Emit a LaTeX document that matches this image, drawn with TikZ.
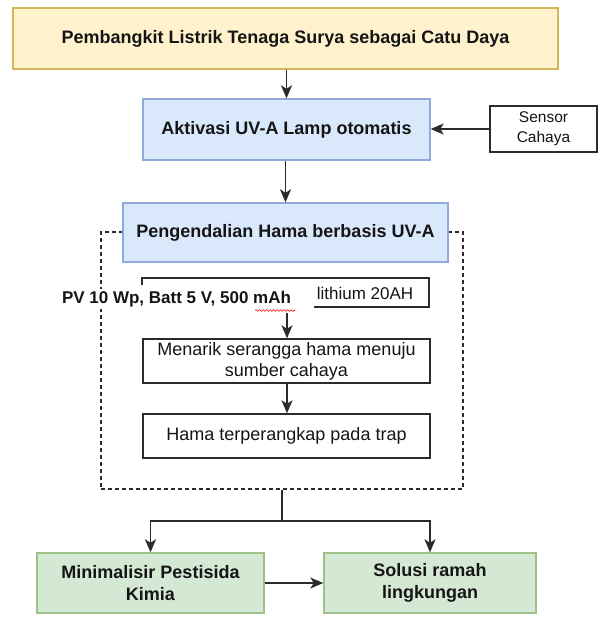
\documentclass[tikz,border=0pt]{standalone}
\usepackage{fontspec}
\setmainfont{Liberation Sans}
\usetikzlibrary{arrows.meta,decorations.pathmorphing}
\definecolor{yfill}{HTML}{FFF2CC}
\definecolor{ydraw}{HTML}{D6B656}
\definecolor{bfill}{HTML}{DAE8FC}
\definecolor{bdraw}{HTML}{8FAADC}
\definecolor{gfill}{HTML}{D5E8D4}
\definecolor{gdraw}{HTML}{9CC18A}
\definecolor{lin}{HTML}{2B2B2B}
\definecolor{txt}{HTML}{151515}
\begin{document}
\begin{tikzpicture}[x=1pt,y=-1pt,
  base/.style={draw, line width=1.4pt, inner sep=0pt, align=center, text=txt},
  boldbox/.style={base, font=\fontsize{18}{22}\selectfont\bfseries},
  plainbox/.style={base, draw=lin, fill=white, font=\fontsize{18}{21}\selectfont},
  ybox/.style={boldbox, fill=yfill, draw=ydraw},
  bbox/.style={boldbox, fill=bfill, draw=bdraw},
  gbox/.style={boldbox, fill=gfill, draw=gdraw},
  arr/.style={draw=lin, line width=1.7pt, -{Stealth[length=13pt,width=11pt,inset=3.5pt]}},
  lineonly/.style={draw=lin, line width=1.7pt},
  grp/.style={draw=lin, line width=1.6pt, dash pattern=on 4pt off 3pt, inner sep=0pt}
]
\useasboundingbox[fill=white] (0,0) rectangle (615,630);

\node[grp, minimum width=362pt, minimum height=257pt] (group) at (282,360.5) {};

\node[ybox, minimum width=545pt, minimum height=61pt] (top) at (285.5,38.5)
  {Pembangkit Listrik Tenaga Surya sebagai Catu Daya};
\node[bbox, minimum width=287pt, minimum height=61pt] (act) at (286.5,129.5)
  {Aktivasi UV-A Lamp otomatis};
\node[plainbox, minimum width=107pt, minimum height=46pt,
  font=\fontsize{15.5}{20}\selectfont] (sensor) at (543.5,129) {Sensor\\Cahaya};
\node[bbox, minimum width=325pt, minimum height=59pt] (peng) at (285.5,232.5)
  {Pengendalian Hama berbasis UV-A};

% bracket box with lithium text
\coordinate (bA) at (142,285);
\coordinate (bB) at (142,278);
\coordinate (bC) at (429,278);
\coordinate (bD) at (429,307);
\coordinate (bE) at (314,307);
\draw[lin, line width=1.4pt] (bA) -- (bB) -- (bC) -- (bD) -- (bE);
\node[text=txt, font=\fontsize{17}{20}\selectfont, inner sep=0pt] (lith) at (365,293) {lithium 20AH};

\node[fill=white, text=txt, font=\fontsize{17}{20}\selectfont\bfseries, inner sep=2pt] (pv) at (176.5,299)
  {PV 10 Wp, Batt 5 V, 500 mAh};
\coordinate (sq1) at (255,310.5);
\coordinate (sq2) at (295,310.5);
\draw[red, line width=0.6pt, decorate, decoration={snake, amplitude=0.9pt, segment length=3.5pt}] (sq1) -- (sq2);

\node[plainbox, minimum width=287pt, minimum height=44pt] (menarik) at (286.5,361)
  {Menarik serangga hama menuju\\sumber cahaya};
\node[plainbox, minimum width=287pt, minimum height=44pt] (hama) at (286.5,436)
  {Hama terperangkap pada trap};

\node[gbox, minimum width=227pt, minimum height=60pt] (g1) at (150.5,583)
  {Minimalisir Pestisida\\Kimia};
\node[gbox, minimum width=212pt, minimum height=60pt] (g2) at (430,583)
  {Solusi ramah\\lingkungan};

% connectors
\draw[arr] (act.north |- top.south) -- (act.north);
\draw[arr] (sensor.west) -- (act.east |- sensor.west);
\draw[arr] (act.south -| peng.north) -- (peng.north);
\coordinate (pvarr) at (287,313);
\draw[arr] (pvarr) -- (menarik.north -| pvarr);
\draw[arr] (menarik.south -| pvarr) -- (hama.north -| pvarr);
\coordinate (split) at (282,521);
\draw[lineonly] (group.south) -- (split);
\draw[arr] (split) -| (g1.north);
\draw[arr] (split) -| (g2.north);
\draw[arr] (g1.east) -- (g2.west);
\end{tikzpicture}
\end{document}
